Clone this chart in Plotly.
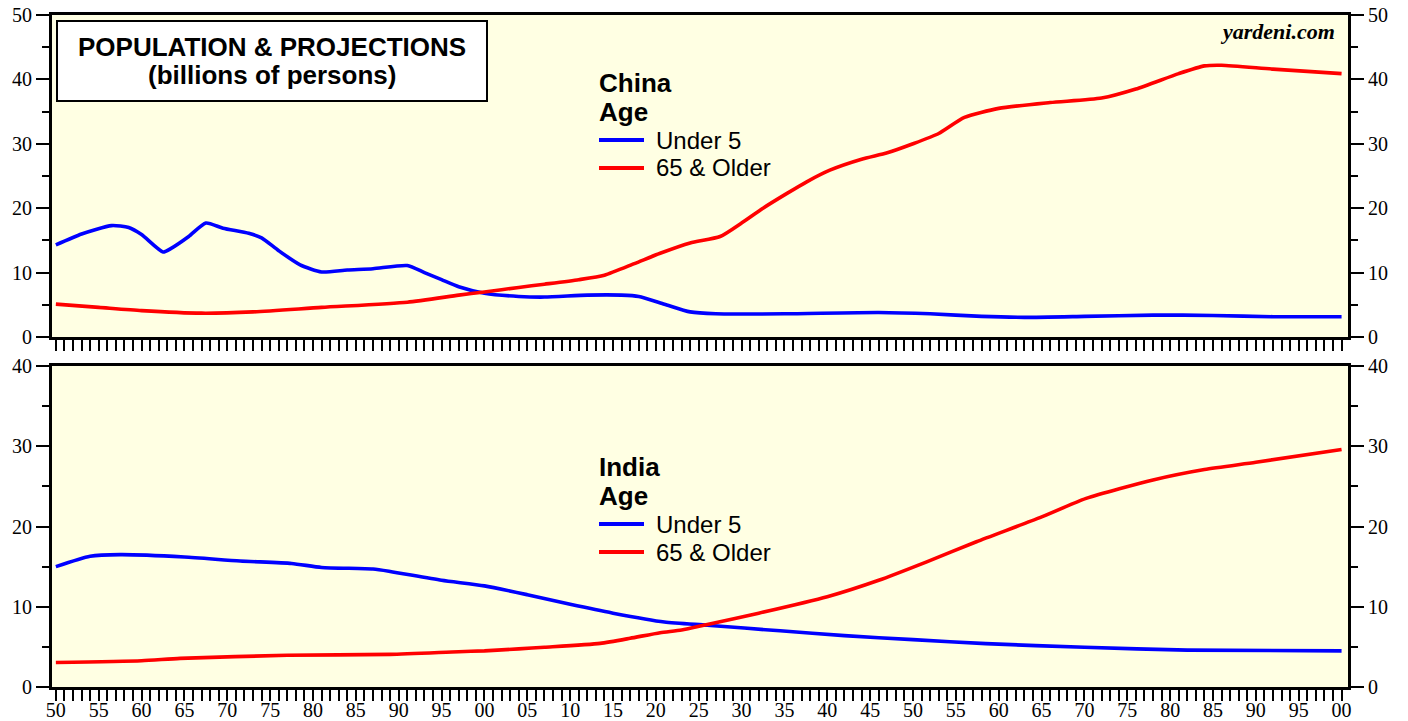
import plotly.graph_objects as go

# ---------------- data ----------------
china_u5_years = [1950, 1953, 1956.5, 1958.5, 1960, 1962.5, 1963.5, 1965.5, 1967.5, 1969.5,
                  1972.5, 1974, 1976, 1978.5, 1981, 1984, 1987, 1991, 1993, 1995, 1997,
                  2000, 2004, 2007, 2012, 2016, 2018, 2021, 2024, 2027, 2035, 2046, 2052,
                  2058, 2063, 2070, 2078, 2085, 2092, 2100]
china_u5 = [14.3, 16.0, 17.3, 17.0, 15.9, 13.2, 13.8, 15.6, 17.7, 16.9,
            16.1, 15.4, 13.4, 11.2, 10.1, 10.4, 10.6, 11.1, 10.0, 8.9, 7.8,
            6.8, 6.3, 6.2, 6.5, 6.5, 6.3, 5.1, 3.9, 3.6, 3.6, 3.8, 3.6,
            3.2, 3.05, 3.2, 3.4, 3.35, 3.15, 3.15]

china_65_years = [1950, 1955, 1960, 1967, 1973, 1981, 1991, 1997, 2000, 2004, 2007, 2011,
                  2014, 2017.5, 2020.5, 2024, 2027.5, 2030, 2032.5, 2035.3, 2037.6, 2040.3,
                  2044, 2047, 2050, 2053, 2056, 2060, 2066, 2072, 2076, 2081, 2084, 2086,
                  2092, 2100]
china_65 = [5.1, 4.6, 4.1, 3.7, 3.9, 4.6, 5.4, 6.5, 7.0, 7.7, 8.2, 8.9,
            9.6, 11.4, 13.0, 14.6, 15.6, 17.7, 20.0, 22.3, 24.1, 25.9,
            27.6, 28.6, 30.0, 31.6, 34.1, 35.5, 36.4, 37.1, 38.5, 40.9, 42.1, 42.2,
            41.6, 40.9]

india_u5_years = [1950, 1954, 1957.5, 1965, 1971.5, 1977.5, 1981, 1987, 1989, 1995, 2000,
                  2005, 2010, 2015, 2021, 2026, 2034.5, 2042, 2050, 2058.5, 2070, 2082, 2100]
india_u5 = [15.0, 16.3, 16.5, 16.2, 15.7, 15.4, 14.9, 14.7, 14.4, 13.3, 12.6,
            11.5, 10.3, 9.2, 8.1, 7.7, 7.0, 6.4, 5.9, 5.4, 4.95, 4.6, 4.5]

india_65_years = [1950, 1960, 1964.5, 1977, 1989, 1997, 2000, 2004, 2007, 2013.5, 2017,
                  2020.5, 2023, 2026, 2032, 2040, 2046, 2051.6, 2057.4, 2064.8, 2070.2,
                  2078, 2084, 2090, 2100]
india_65 = [3.05, 3.28, 3.57, 3.95, 4.07, 4.4, 4.5, 4.75, 4.95, 5.44, 6.07,
            6.77, 7.1, 7.8, 9.2, 11.25, 13.3, 15.6, 18.1, 21.1, 23.5,
            25.8, 27.1, 28.0, 29.6]

year_ticks = list(range(1950, 2101, 5))
year_labels = [f"{y % 100:02d}" for y in year_ticks]
series_names = ["Under 5", "65 & Older"]
panel_names = ["China", "India"]

# ---------------- styling ----------------
W, H = 1408, 721
PLOT_L, PLOT_R, PLOT_T, PLOT_B = 52, 1348, 15, 687   # pixel edges of the plotting region
ML, MR, MT, MB = PLOT_L, W - PLOT_R, PLOT_T, H - PLOT_B
PW, PH = PLOT_R - PLOT_L, PLOT_B - PLOT_T
BLUE, RED = "#0000FF", "#FF0000"
BG = "#FFFFE3"
SERIF = "Liberation Serif, Times New Roman, serif"
SANS = "Liberation Sans, Arial, sans-serif"


def px(x):
    return (x - PLOT_L) / PW


def py(y):
    return (PLOT_B - y) / PH


top_dom = [py(337), 1.0]
bot_dom = [0.0, py(366)]

fig = go.Figure()

line_kw = dict(mode="lines", line_shape="spline", showlegend=False, hoverinfo="x+y")
fig.add_trace(go.Scatter(x=china_u5_years, y=china_u5, name=series_names[0],
                         line=dict(color=BLUE, width=3.6, smoothing=0.6), xaxis="x", yaxis="y", **line_kw))
fig.add_trace(go.Scatter(x=china_65_years, y=china_65, name=series_names[1],
                         line=dict(color=RED, width=3.6, smoothing=0.6), xaxis="x", yaxis="y", **line_kw))
fig.add_trace(go.Scatter(x=india_u5_years, y=india_u5, name=series_names[0],
                         line=dict(color=BLUE, width=3.6, smoothing=0.6), xaxis="x2", yaxis="y3", **line_kw))
fig.add_trace(go.Scatter(x=india_65_years, y=india_65, name=series_names[1],
                         line=dict(color=RED, width=3.6, smoothing=0.6), xaxis="x2", yaxis="y3", **line_kw))
# invisible anchors for the right-hand axes
fig.add_trace(go.Scatter(x=[1950], y=[0], mode="markers", marker=dict(opacity=0),
                         showlegend=False, hoverinfo="skip", xaxis="x", yaxis="y2"))
fig.add_trace(go.Scatter(x=[1950], y=[0], mode="markers", marker=dict(opacity=0),
                         showlegend=False, hoverinfo="skip", xaxis="x2", yaxis="y4"))

xrange = [1949.55, 2100.75]
xcommon = dict(range=xrange, showgrid=False, zeroline=False, showline=True, linecolor="black",
               linewidth=3, mirror=True, ticks="outside", ticklen=11, tickwidth=2, tickcolor="black",
               tickmode="array", tickvals=year_ticks, ticktext=year_labels, automargin=False,
               ticklabeloverflow="allow", ticklabelstandoff=-8,
               minor=dict(tickmode="array", tickvals=list(range(1950, 2101)), ticks="outside",
                          ticklen=11, tickwidth=2, tickcolor="black"),
               tickfont=dict(family=SERIF, size=20, color="black"), fixedrange=True)

ycommon = dict(showgrid=False, zeroline=False, showline=True, linecolor="black", linewidth=3,
               ticks="outside", ticklen=13, tickwidth=2, tickcolor="black", dtick=10, tick0=0,
               automargin=False, ticklabeloverflow="allow",
               minor=dict(dtick=5, ticks="outside", ticklen=7, tickwidth=2, tickcolor="black"),
               tickfont=dict(family=SERIF, size=20, color="black"), fixedrange=True)

fig.update_layout(
    width=W, height=H, autosize=False,
    margin=dict(l=ML, r=MR, t=MT, b=MB, pad=0, autoexpand=False),
    paper_bgcolor="white", plot_bgcolor=BG,
    showlegend=False,
    xaxis=dict(domain=[0, 1], anchor="y", showticklabels=False, **xcommon),
    xaxis2=dict(domain=[0, 1], anchor="y3", showticklabels=True, **xcommon),
    yaxis=dict(domain=top_dom, anchor="x", range=[0, 50], side="left", **ycommon),
    yaxis2=dict(domain=top_dom, anchor="x", range=[0, 50], side="right", overlaying="y", **ycommon),
    yaxis3=dict(domain=bot_dom, anchor="x2", range=[0, 40], side="left", **ycommon),
    yaxis4=dict(domain=bot_dom, anchor="x2", range=[0, 40], side="right", overlaying="y3", **ycommon),
)

shapes = []
annotations = []

# title box
shapes.append(dict(type="rect", xref="paper", yref="paper", x0=px(57), x1=px(487), y0=py(101), y1=py(21),
                   line=dict(color="black", width=2), fillcolor="white", layer="above"))
annotations.append(dict(xref="paper", yref="paper", x=px(272), y=py(47), text="<b>POPULATION & PROJECTIONS</b>",
                        showarrow=False, xanchor="center", yanchor="middle",
                        font=dict(family=SANS, size=26, color="black")))
annotations.append(dict(xref="paper", yref="paper", x=px(272), y=py(75), text="<b>(billions of persons)</b>",
                        showarrow=False, xanchor="center", yanchor="middle",
                        font=dict(family=SANS, size=26, color="black")))
# source
annotations.append(dict(xref="paper", yref="paper", x=px(1337), y=py(31), text="<b><i>yardeni.com</i></b>",
                        showarrow=False, xanchor="right", yanchor="middle",
                        font=dict(family=SERIF, size=22, color="black")))

# legends
for name, (y_name, y_age, y_l1, y_l2) in zip(panel_names, [(83, 112, 140, 168), (467, 496, 524, 552)]):
    annotations.append(dict(xref="paper", yref="paper", x=px(597), y=py(y_name), text=f"<b>{name}</b>",
                            showarrow=False, xanchor="left", yanchor="middle",
                            font=dict(family=SANS, size=26, color="black")))
    annotations.append(dict(xref="paper", yref="paper", x=px(597), y=py(y_age), text="<b>Age</b>",
                            showarrow=False, xanchor="left", yanchor="middle",
                            font=dict(family=SANS, size=26, color="black")))
    for yy, col, lab in [(y_l1, BLUE, series_names[0]), (y_l2, RED, series_names[1])]:
        shapes.append(dict(type="line", xref="paper", yref="paper", x0=px(599), x1=px(644), y0=py(yy), y1=py(yy),
                           line=dict(color=col, width=4)))
        annotations.append(dict(xref="paper", yref="paper", x=px(654), y=py(yy), text=lab,
                                showarrow=False, xanchor="left", yanchor="middle",
                                font=dict(family=SANS, size=24, color="black")))

fig.update_layout(shapes=shapes, annotations=annotations)

# remove the default page margin so the 1408x721 figure fills the window exactly
fig.write_html("out.html",
               config={"displayModeBar": False},
               post_script="document.body.style.margin='0';document.body.style.overflow='hidden';")
